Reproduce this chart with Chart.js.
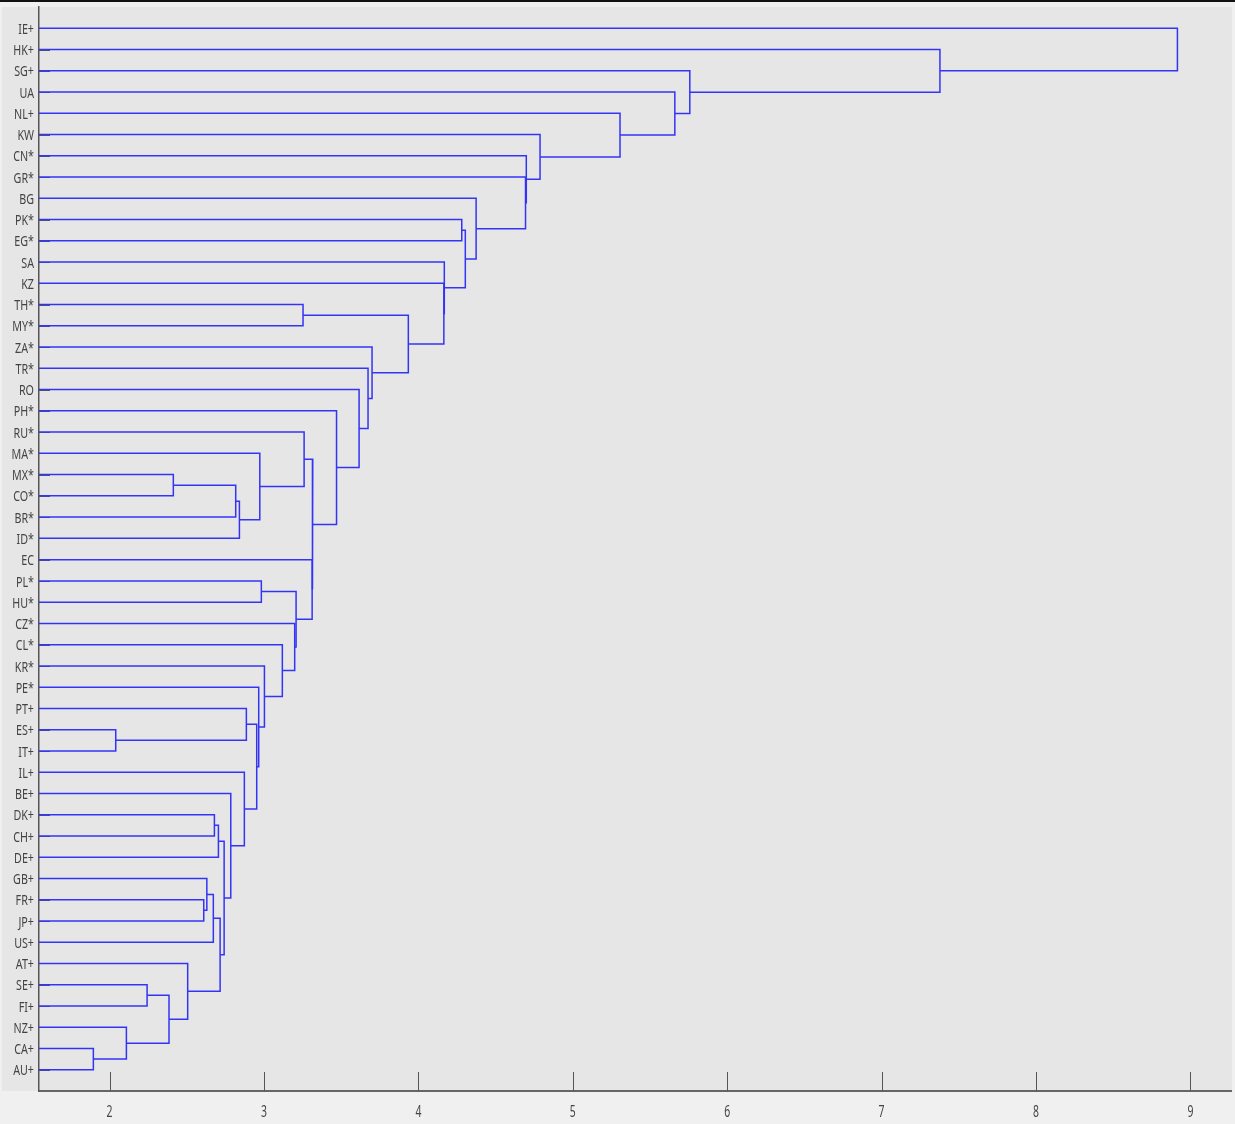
<!DOCTYPE html>
<html>
<head>
<meta charset="utf-8">
<script src="https://cdn.jsdelivr.net/npm/chart.js@4.4.0/dist/chart.umd.min.js"></script>
<style>
  body { margin: 0; background: #f0f0f0; }
  canvas { display: block; }
</style>
</head>
<body>
<canvas id="dendro" width="1235" height="1124"></canvas>
<script>
// Leaves in display order, top to bottom
const leafLabels = [
  'IE+', 'HK+', 'SG+', 'UA', 'NL+', 'KW', 'CN*', 'GR*', 'BG', 'PK*',
  'EG*', 'SA', 'KZ', 'TH*', 'MY*', 'ZA*', 'TR*', 'RO', 'PH*', 'RU*',
  'MA*', 'MX*', 'CO*', 'BR*', 'ID*', 'EC', 'PL*', 'HU*', 'CZ*', 'CL*',
  'KR*', 'PE*', 'PT+', 'ES+', 'IT+', 'IL+', 'BE+', 'DK+', 'CH+', 'DE+',
  'GB+', 'FR+', 'JP+', 'US+', 'AT+', 'SE+', 'FI+', 'NZ+', 'CA+', 'AU+'
];

// Linkage: merge k joins mergeLeft[k] and mergeRight[k] into node 50 + k
// (ids 0..49 are the leaves above)
const mergeLeft = [
  48, 33, 47, 45, 53, 21, 44, 41, 40, 58,
  37, 60, 59, 61, 36, 55, 65, 35, 32, 68,
  31, 20, 26, 30, 29, 28, 72, 13, 19, 25,
  78, 18, 17, 16, 15, 77, 12, 11, 9, 88,
  8, 7, 6, 5, 4, 3, 2, 1, 0
];
const mergeRight = [
  49, 34, 50, 46, 52, 22, 54, 42, 57, 43,
  38, 39, 56, 62, 63, 23, 24, 64, 51, 67,
  69, 66, 27, 70, 73, 74, 75, 14, 71, 76,
  79, 80, 81, 82, 83, 84, 85, 86, 10, 87,
  89, 90, 91, 92, 93, 94, 95, 96, 97
];
const mergeHeight = [
  1.895, 2.040, 2.109, 2.243, 2.385, 2.413, 2.506, 2.610, 2.630, 2.672,
  2.679, 2.705, 2.716, 2.742, 2.785, 2.817, 2.841, 2.873, 2.886, 2.953,
  2.966, 2.973, 2.983, 3.003, 3.119, 3.199, 3.208, 3.253, 3.260, 3.312,
  3.316, 3.470, 3.616, 3.674, 3.700, 3.935, 4.165, 4.168, 4.281, 4.304,
  4.374, 4.694, 4.699, 4.788, 5.306, 5.661, 5.758, 7.378, 8.916
];

const xTicks = [2, 3, 4, 5, 6, 7, 8, 9];
const xMin = 1.543;
const xMax = 9.263;

const LINE_COLOR = '#3434f6';
const TEXT_COLOR = '#444444';

// node positions: x = merge height, y = mean of the two children
const nodeX = [];
const nodeY = [];
leafLabels.forEach((lab, i) => { nodeX[i] = xMin; nodeY[i] = i + 1; });

const datasets = mergeHeight.map((h, k) => {
  const a = mergeLeft[k], b = mergeRight[k];
  const id = leafLabels.length + k;
  nodeX[id] = h;
  nodeY[id] = (nodeY[a] + nodeY[b]) / 2;
  return {
    data: [
      { x: nodeX[a], y: nodeY[a] },
      { x: h, y: nodeY[a] },
      { x: h, y: nodeY[b] },
      { x: nodeX[b], y: nodeY[b] }
    ],
    showLine: true,
    borderColor: LINE_COLOR,
    borderWidth: 1.5,
    pointRadius: 0,
    tension: 0,
    fill: false
  };
});

// gray axes box and the dark strip along the top
const frame = {
  id: 'frame',
  beforeDraw(chart) {
    const ctx = chart.ctx;
    const a = chart.chartArea;
    ctx.save();
    ctx.fillStyle = '#f0f0f0';
    ctx.fillRect(0, 0, chart.width, chart.height);
    ctx.fillStyle = '#e6e6e6';
    ctx.fillRect(2, a.top, a.right - 2 + 1, a.bottom - a.top);
    ctx.fillStyle = '#111';
    ctx.fillRect(0, 0, chart.width, 2);
    ctx.restore();
  }
};

// inward tick marks on both axes
const innerTicks = {
  id: 'innerTicks',
  beforeDatasetsDraw(chart) {
    const ctx = chart.ctx;
    const a = chart.chartArea;
    const xs = chart.scales.x, ys = chart.scales.y;
    ctx.save();
    ctx.strokeStyle = '#555';
    ctx.lineWidth = 1;
    ctx.beginPath();
    xTicks.forEach(v => {
      const px = Math.round(xs.getPixelForValue(v)) + 0.5;
      ctx.moveTo(px, a.bottom);
      ctx.lineTo(px, a.bottom - 19);
    });
    leafLabels.forEach((lab, i) => {
      const py = Math.round(ys.getPixelForValue(i + 1)) + 0.5;
      ctx.moveTo(a.left, py);
      ctx.lineTo(a.left + 11, py);
    });
    ctx.stroke();
    ctx.restore();
  }
};

// narrow tick labels
const tickText = {
  id: 'tickText',
  afterDraw(chart) {
    const ctx = chart.ctx;
    const a = chart.chartArea;
    const xs = chart.scales.x, ys = chart.scales.y;
    ctx.save();
    ctx.fillStyle = TEXT_COLOR;
    ctx.textBaseline = 'middle';

    ctx.font = '14.5px "Noto Sans"';
    ctx.textAlign = 'right';
    leafLabels.forEach((lab, i) => {
      const py = ys.getPixelForValue(i + 1);
      ctx.save();
      ctx.translate(a.left - 5, py + 1.5);
      ctx.scale(0.74, 1);
      ctx.fillText(lab, 0, 0);
      ctx.restore();
    });

    ctx.font = '16px "Noto Sans"';
    ctx.textAlign = 'center';
    xTicks.forEach(v => {
      const px = xs.getPixelForValue(v);
      ctx.save();
      ctx.translate(px, a.bottom + 21);
      ctx.scale(0.65, 1);
      ctx.fillText(String(v), 0, 0);
      ctx.restore();
    });
    ctx.restore();
  }
};

new Chart(document.getElementById('dendro').getContext('2d'), {
  type: 'scatter',
  data: { datasets: datasets },
  options: {
    responsive: false,
    animation: false,
    events: [],
    layout: { padding: { left: 39, right: 4, top: 7, bottom: 33 } },
    plugins: {
      legend: { display: false },
      tooltip: { enabled: false }
    },
    scales: {
      x: {
        type: 'linear',
        min: xMin,
        max: xMax,
        ticks: { display: false },
        grid: { display: false, drawTicks: false },
        border: { display: true, color: '#666', width: 2 }
      },
      y: {
        type: 'linear',
        reverse: true,
        min: 0,
        max: leafLabels.length + 1,
        ticks: { display: false },
        grid: { display: false, drawTicks: false },
        border: { display: true, color: '#555', width: 1.5 }
      }
    }
  },
  plugins: [frame, innerTicks, tickText]
});
</script>
</body>
</html>
